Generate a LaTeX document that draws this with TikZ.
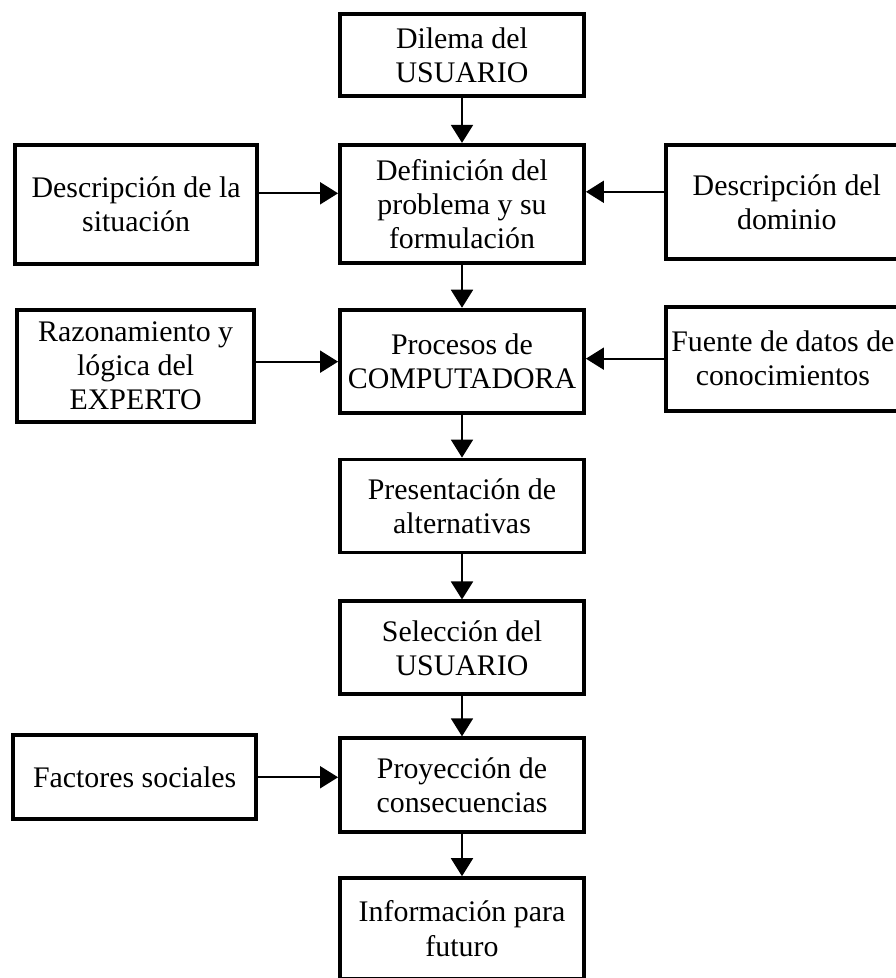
\documentclass[tikz,border=0pt]{standalone}
\usepackage{fontspec}
\setmainfont{Liberation Serif}
\usetikzlibrary{positioning,arrows.meta}

\begin{document}
\begin{tikzpicture}[>={Triangle[length=0.36cm,width=0.44cm]}, node distance=0.88cm]
  % boxes and arrows
  \tikzset{box/.style={draw, line width=2.2pt, inner sep=0pt, align=center, minimum width=4.88cm, font=\fontsize{17}{19.4}\selectfont},
           flow/.style={->, line width=1.1pt}}
  % page size of the reference, everything past it is cut
  \clip (0,0) rectangle (17.92,-19.56);

  % central column
  \node[box, minimum height=1.64cm, anchor=north] (dilema) at (9.24,-0.24) {Dilema del\\USUARIO};
  \node[box, minimum height=2.36cm, below=0.9cm of dilema] (definicion) {Definición del\\problema y su\\formulación};
  \node[box, minimum height=2.06cm, below=0.86cm of definicion] (procesos) {Procesos de\\COMPUTADORA};
  \node[box, minimum height=1.86cm, below=0.86cm of procesos] (presentacion) {Presentación de\\alternativas};
  \node[box, minimum height=1.86cm, below=0.9cm of presentacion] (seleccion) {Selección del\\USUARIO};
  \node[box, minimum height=1.88cm, below=0.8cm of seleccion] (proyeccion) {Proyección de\\consecuencias};
  \node[box, minimum height=2.02cm, below=0.84cm of proyeccion] (informacion) {Información para\\futuro};

  % side inputs
  \node[box, minimum width=4.84cm, minimum height=2.38cm, below left=0cm and 1.58cm of definicion.north west] (situacion) {Descripción de la\\situación};
  \node[box, minimum width=4.84cm, minimum height=2.28cm, below right=0cm and 1.56cm of definicion.north east] (dominio) {Descripción del\\dominio};
  \node[box, minimum width=4.74cm, minimum height=2.24cm, below left=0cm and 1.64cm of procesos.north west] (razonamiento) {Razonamiento y\\lógica del\\EXPERTO};
  \node[box, minimum width=4.68cm, minimum height=2.08cm, below right=-0.06cm and 1.56cm of procesos.north east] (fuente) {Fuente de datos de\\conocimientos};
  \node[box, minimum width=4.86cm, minimum height=1.68cm, below left=-0.06cm and 1.6cm of proyeccion.north west] (factores) {Factores sociales};

  % main flow
  \draw[flow] (dilema) -- (definicion);
  \draw[flow] (definicion) -- (procesos);
  \draw[flow] (procesos) -- (presentacion);
  \draw[flow] (presentacion) -- (seleccion);
  \draw[flow] (seleccion) -- (proyeccion);
  \draw[flow] (proyeccion) -- (informacion);

  % inputs from the sides
  \draw[flow] ([yshift=0.22cm]situacion.east) -- ([yshift=0.22cm]situacion.east -| definicion.west);
  \draw[flow] ([yshift=0.2cm]dominio.west) -- ([yshift=0.2cm]dominio.west -| definicion.east);
  \draw[flow] ([yshift=0.08cm]razonamiento.east) -- ([yshift=0.08cm]razonamiento.east -| procesos.west);
  \draw[flow] (fuente.west) -- (fuente.west -| procesos.east);
  \draw[flow] (factores.east) -- (factores.east -| proyeccion.west);
\end{tikzpicture}
\end{document}
